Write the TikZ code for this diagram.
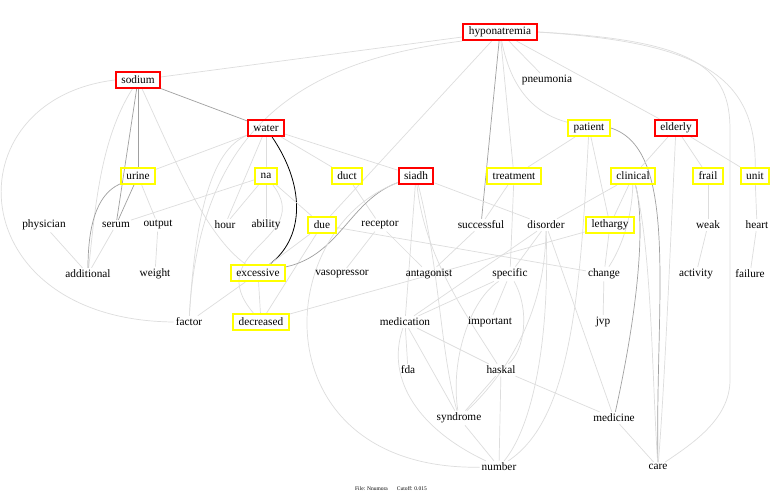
\documentclass[tikz,border=0pt]{standalone}
\usepackage{fontspec}
\setmainfont{Liberation Serif}
\usetikzlibrary{backgrounds}
\definecolor{lg}{HTML}{DDDDDD}
\definecolor{mg}{HTML}{A0A0A0}
\definecolor{yb}{HTML}{FFFF00}
\definecolor{rb}{HTML}{FF0000}
\begin{document}
\begin{tikzpicture}[x=1pt,y=-1pt,
  lbl/.style={font=\fontsize{11.3}{13}\selectfont, inner sep=2pt},
  ybox/.style={lbl, draw=yb, line width=2pt, inner xsep=5.5pt, minimum height=16pt},
  rbox/.style={lbl, draw=rb, line width=2pt, inner xsep=5.5pt, minimum height=16pt},
  le/.style={draw=lg, line width=0.7pt},
  me/.style={draw=mg, line width=0.7pt},
  ke/.style={draw=black, line width=0.8pt}]
\useasboundingbox (0,0) rectangle (780,500);
% nodes
\node[rbox] (hyp) at (500,32) {hyponatremia};
\node[rbox] (sodium) at (138,80) {sodium};
\node[lbl] (pneu) at (547,80) {pneumonia};
\node[rbox] (water) at (266,128) {water};
\node[ybox] (patient) at (589,128) {patient};
\node[rbox] (elderly) at (676,128) {elderly};
\node[ybox] (urine) at (138,176) {urine};
\node[ybox] (na) at (266,176) {na};
\node[ybox] (duct) at (347,176) {duct};
\node[rbox] (siadh) at (416,176) {siadh};
\node[ybox] (treat) at (514,176) {treatment};
\node[ybox] (clin) at (633,176) {clinical};
\node[ybox] (frail) at (708,176) {frail};
\node[ybox] (unit) at (755,176) {unit};
\node[lbl] (phys) at (44,225) {physician};
\node[lbl] (serum) at (116,225) {serum};
\node[lbl] (output) at (158,225) {output};
\node[lbl] (hour) at (225,225) {hour};
\node[lbl] (ability) at (266,225) {ability};
\node[ybox] (due) at (322,225) {due};
\node[lbl] (recep) at (380,225) {receptor};
\node[lbl] (succ) at (481,225) {successful};
\node[lbl] (disorder) at (546,225) {disorder};
\node[ybox] (leth) at (610,225) {lethargy};
\node[lbl] (weak) at (708,225) {weak};
\node[lbl] (heart) at (757,225) {heart};
\node[lbl] (addl) at (88,274) {additional};
\node[lbl] (weight) at (155,274) {weight};
\node[ybox] (exc) at (258,273) {excessive};
\node[lbl] (vaso) at (342,274) {vasopressor};
\node[lbl] (antag) at (429,274) {antagonist};
\node[lbl] (spec) at (510,274) {specific};
\node[lbl] (change) at (604,274) {change};
\node[lbl] (activity) at (696,274) {activity};
\node[lbl] (failure) at (750,274) {failure};
\node[lbl] (factor) at (189,322) {factor};
\node[ybox] (decr) at (261,322) {decreased};
\node[lbl] (medic) at (405,322) {medication};
\node[lbl] (important) at (490,322) {important};
\node[lbl] (jvp) at (603,322) {jvp};
\node[lbl] (fda) at (408,370) {fda};
\node[lbl] (haskal) at (501,370) {haskal};
\node[lbl] (synd) at (459,418) {syndrome};
\node[lbl] (medicine) at (614,418) {medicine};
\node[lbl] (number) at (499,467) {number};
\node[lbl] (care) at (658,467) {care};
\node[font=\fontsize{5.5}{6}\selectfont, inner sep=1pt] (foot) at (391,489) {File: Nnumora\hspace{9pt}Cutoff: 0.015};
% edges
\begin{scope}[on background layer]
\fill[white] (0,0) rectangle (780,500);
\draw[le] (sodium) -- (hyp);
\draw[le] (hyp.south west) .. controls (310,60) and (200,120) .. (factor);
\draw[le] (hyp) -- (due);
\draw[le] (hyp) -- (treat);
\draw[le] (hyp) -- (pneu);
\draw[le] (hyp) .. controls (512,95) and (540,115) .. (patient);
\draw[le] (hyp) -- (elderly);
\draw[le] (hyp.east) .. controls (690,42) and (757,70) .. (unit);
\draw[le] (hyp.east) .. controls (700,40) and (730,70) .. (730,130) -- (730,380) .. controls (730,420) and (690,445) .. (care);
\draw[me] (hyp) -- (succ);
\draw[me] (sodium) -- (water);
\draw[me] (sodium) -- (urine);
\draw[me] (sodium) -- (serum);
\draw[le] (sodium) .. controls (100,140) and (95,210) .. (addl);
\draw[le] (sodium) .. controls (175,160) and (205,235) .. (exc);
\draw[le] (sodium.west) .. controls (-50,100) and (-40,320) .. (factor.west);
\draw[le] (urine) -- (water);
\draw[me] (urine) -- (serum);
\draw[me] (urine) .. controls (95,195) and (88,230) .. (addl);
\draw[le] (urine) -- (output);
\draw[le] (output) -- (weight);
\draw[le] (phys) -- (addl);
\draw[le] (serum) -- (addl);
\draw[le] (water) -- (na);
\draw[le] (water) -- (hour);
\draw[le] (water) -- (duct);
\draw[le] (water) -- (siadh);
\draw[le] (water) .. controls (210,150) and (195,220) .. (factor);
\draw[ke] (water) .. controls (308,190) and (302,240) .. (exc);
\draw[le] (na) -- (serum);
\draw[le] (na) -- (hour);
\draw[le] (na) -- (ability);
\draw[le] (na) -- (due);
\draw[le] (na) .. controls (315,240) and (200,250) .. (decr);
\draw[le] (due) -- (exc);
\draw[le] (due) -- (decr);
\draw[le] (due) -- (change);
\draw[le] (duct) -- (recep);
\draw[le] (recep) -- (vaso);
\draw[le] (recep) -- (antag);
\draw[le] (exc) -- (decr);
\draw[le] (exc) -- (factor);
\draw[me] (siadh) .. controls (350,200) and (340,255) .. (exc);
\draw[le] (siadh) .. controls (270,230) and (260,470) .. (number);
\draw[le] (siadh) -- (disorder);
\draw[le] (siadh) -- (medic);
\draw[le] (siadh) .. controls (440,270) and (440,350) .. (synd);
\draw[le] (siadh) .. controls (425,260) and (470,320) .. (haskal);
\draw[le] (treat) -- (patient);
\draw[le] (treat) -- (succ);
\draw[le] (treat) -- (spec);
\draw[le] (succ) -- (antag);
\draw[le] (disorder) -- (clin);
\draw[le] (disorder) -- (medicine);
\draw[le] (disorder) -- (medic);
\draw[le] (disorder) -- (spec);
\draw[le] (disorder) .. controls (545,320) and (500,380) .. (synd);
\draw[le] (disorder) .. controls (550,350) and (530,430) .. (number);
\draw[le] (leth) -- (change);
\draw[le] (decr) -- (leth);
\draw[le] (clin) -- (leth);
\draw[le] (patient) -- (leth);
\draw[le] (clin) .. controls (632,220) and (620,250) .. (change);
\draw[le] (patient) .. controls (580,300) and (570,420) .. (number);
\draw[me] (patient.east) .. controls (680,150) and (655,300) .. (care);
\draw[me] (clin) .. controls (645,220) and (640,300) .. (medicine);
\draw[le] (clin) .. controls (652,250) and (652,380) .. (care);
\draw[le] (clin) -- (elderly);
\draw[le] (elderly) -- (frail);
\draw[le] (elderly) -- (unit);
\draw[le] (elderly) .. controls (670,250) and (665,380) .. (care);
\draw[le] (frail) -- (weak);
\draw[le] (weak) -- (activity);
\draw[le] (unit) -- (heart);
\draw[le] (heart) -- (failure);
\draw[le] (spec) -- (important);
\draw[le] (spec) .. controls (530,310) and (525,350) .. (haskal);
\draw[le] (spec) .. controls (470,300) and (450,360) .. (synd);
\draw[le] (medic) -- (spec);
\draw[le] (medic) -- (fda);
\draw[le] (medic) -- (synd);
\draw[le] (medic) -- (haskal);
\draw[le] (medic) .. controls (385,380) and (420,430) .. (number);
\draw[le] (haskal) -- (synd);
\draw[le] (haskal) -- (number);
\draw[le] (haskal) -- (medicine);
\draw[le] (synd) -- (number);
\draw[le] (medicine) -- (care);
\draw[le] (change) -- (jvp);
\end{scope}
\end{tikzpicture}
\end{document}
